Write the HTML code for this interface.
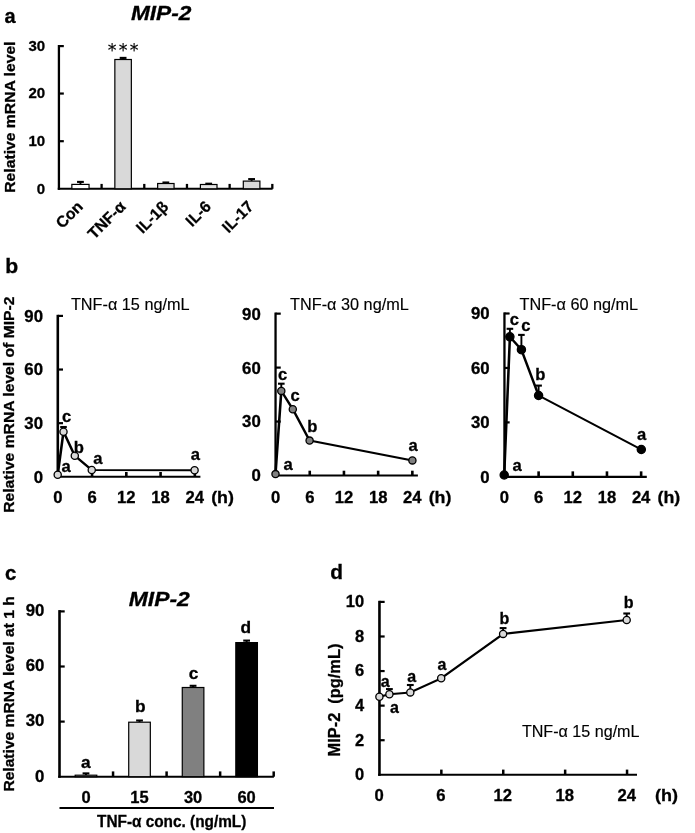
<!DOCTYPE html>
<html lang="en"><head><meta charset="utf-8"><title>MIP-2 figure</title>
<style>
html,body{margin:0;padding:0;background:#fff;}
body{width:695px;height:833px;overflow:hidden;}
svg{display:block;}
svg text{font-family:"Liberation Sans", sans-serif;font-weight:bold;fill:#000;stroke:#000;stroke-width:0.3px;}
svg text.n{font-weight:normal;stroke-width:0.15px;}
</style></head><body>
<svg width="695" height="833" viewBox="0 0 695 833">
<rect width="695" height="833" fill="#fff"/>
<g id="pa">
<text x="4.40" y="23.20" font-size="20" text-anchor="start">a</text>
<text x="130.90" y="20.10" font-size="21" text-anchor="start" font-style="italic" textLength="60.50" lengthAdjust="spacingAndGlyphs">MIP-2</text>
<line x1="58.92" y1="45.00" x2="58.92" y2="189.85" stroke="#000" stroke-width="2.3"/>
<line x1="57.77" y1="188.80" x2="272.60" y2="188.80" stroke="#000" stroke-width="2.1"/>
<line x1="58.92" y1="141.20" x2="63.82" y2="141.20" stroke="#000" stroke-width="2.2"/>
<line x1="58.92" y1="93.55" x2="63.82" y2="93.55" stroke="#000" stroke-width="2.2"/>
<line x1="58.92" y1="46.10" x2="63.82" y2="46.10" stroke="#000" stroke-width="2.2"/>
<line x1="101.60" y1="188.80" x2="101.60" y2="183.90" stroke="#000" stroke-width="2.3"/>
<line x1="144.28" y1="188.80" x2="144.28" y2="183.90" stroke="#000" stroke-width="2.3"/>
<line x1="186.96" y1="188.80" x2="186.96" y2="183.90" stroke="#000" stroke-width="2.3"/>
<line x1="229.64" y1="188.80" x2="229.64" y2="183.90" stroke="#000" stroke-width="2.3"/>
<line x1="272.32" y1="188.80" x2="272.32" y2="183.90" stroke="#000" stroke-width="2.3"/>
<text x="45.20" y="193.60" font-size="15" text-anchor="end">0</text>
<text x="45.20" y="145.70" font-size="15" text-anchor="end">10</text>
<text x="45.20" y="98.20" font-size="15" text-anchor="end">20</text>
<text x="45.20" y="51.00" font-size="15" text-anchor="end">30</text>
<text x="15.20" y="192.70" font-size="15.1" text-anchor="start" transform="rotate(-90 15.20 192.70)" textLength="151.20" lengthAdjust="spacingAndGlyphs">Relative mRNA level</text>
<line x1="80.45" y1="181.90" x2="80.45" y2="184.40" stroke="#000" stroke-width="1.9"/>
<line x1="77.05" y1="181.90" x2="83.85" y2="181.90" stroke="#000" stroke-width="2.1"/>
<rect x="71.85" y="184.40" width="17.2" height="4.40" fill="#ffffff" stroke="#000" stroke-width="1.2"/>
<text x="83.86" y="207.60" font-size="15.8" text-anchor="end" transform="rotate(-45 83.86 207.60)">Con</text>
<line x1="123.10" y1="57.90" x2="123.10" y2="59.50" stroke="#000" stroke-width="1.9"/>
<line x1="119.70" y1="57.90" x2="126.50" y2="57.90" stroke="#000" stroke-width="2.1"/>
<rect x="114.85" y="59.50" width="16.5" height="129.30" fill="#d9d9d9" stroke="#000" stroke-width="1.2"/>
<text x="126.54" y="207.60" font-size="15.8" text-anchor="end" transform="rotate(-45 126.54 207.60)">TNF-α</text>
<line x1="165.85" y1="182.50" x2="165.85" y2="183.50" stroke="#000" stroke-width="1.9"/>
<line x1="162.45" y1="182.50" x2="169.25" y2="182.50" stroke="#000" stroke-width="2.1"/>
<rect x="157.65" y="183.50" width="16.4" height="5.30" fill="#d9d9d9" stroke="#000" stroke-width="1.2"/>
<text x="169.22" y="207.60" font-size="15.8" text-anchor="end" transform="rotate(-45 169.22 207.60)">IL-1β</text>
<line x1="208.70" y1="183.70" x2="208.70" y2="184.50" stroke="#000" stroke-width="1.9"/>
<line x1="205.30" y1="183.70" x2="212.10" y2="183.70" stroke="#000" stroke-width="2.1"/>
<rect x="200.40" y="184.50" width="16.6" height="4.30" fill="#e4e4e4" stroke="#000" stroke-width="1.2"/>
<text x="211.90" y="207.60" font-size="15.8" text-anchor="end" transform="rotate(-45 211.90 207.60)">IL-6</text>
<line x1="251.60" y1="179.10" x2="251.60" y2="181.10" stroke="#000" stroke-width="1.9"/>
<line x1="248.20" y1="179.10" x2="255.00" y2="179.10" stroke="#000" stroke-width="2.1"/>
<rect x="243.30" y="181.10" width="16.6" height="7.70" fill="#d9d9d9" stroke="#000" stroke-width="1.2"/>
<text x="254.58" y="207.60" font-size="15.8" text-anchor="end" transform="rotate(-45 254.58 207.60)">IL-17</text>
<text x="124.20" y="55.90" font-size="17.5" text-anchor="middle" class="n" style='font-family:"DejaVu Sans", sans-serif' letter-spacing="2.2" stroke="#000" stroke-width="0.35">***</text>
</g>
<g id="pb">
<text x="0" y="0" font-size="20" text-anchor="start" transform="translate(5.20 273.20) scale(1.06 1)">b</text>
<text x="14.00" y="512.80" font-size="15.3" text-anchor="start" transform="rotate(-90 14.00 512.80)" textLength="216.30" lengthAdjust="spacingAndGlyphs">Relative mRNA level of MIP-2</text>
<line x1="57.80" y1="314.80" x2="57.80" y2="477.85" stroke="#000" stroke-width="2.6"/>
<line x1="56.50" y1="476.80" x2="200.40" y2="476.80" stroke="#000" stroke-width="2.1"/>
<line x1="57.80" y1="423.17" x2="63.00" y2="423.17" stroke="#000" stroke-width="2.2"/>
<line x1="57.80" y1="369.53" x2="63.00" y2="369.53" stroke="#000" stroke-width="2.2"/>
<line x1="57.80" y1="315.90" x2="63.00" y2="315.90" stroke="#000" stroke-width="2.2"/>
<line x1="92.06" y1="476.80" x2="92.06" y2="472.00" stroke="#000" stroke-width="2.6"/>
<line x1="126.32" y1="476.80" x2="126.32" y2="472.00" stroke="#000" stroke-width="2.6"/>
<line x1="160.58" y1="476.80" x2="160.58" y2="472.00" stroke="#000" stroke-width="2.6"/>
<line x1="194.84" y1="476.80" x2="194.84" y2="472.00" stroke="#000" stroke-width="2.6"/>
<text x="0" y="0" font-size="16" text-anchor="end" transform="translate(43.00 482.70) scale(1.05 1)">0</text>
<text x="0" y="0" font-size="16" text-anchor="end" transform="translate(43.00 429.07) scale(1.05 1)">30</text>
<text x="0" y="0" font-size="16" text-anchor="end" transform="translate(43.00 375.43) scale(1.05 1)">60</text>
<text x="0" y="0" font-size="16" text-anchor="end" transform="translate(43.00 321.80) scale(1.05 1)">90</text>
<text x="0" y="0" font-size="16" text-anchor="middle" transform="translate(57.80 502.60) scale(1.04 1)">0</text>
<text x="0" y="0" font-size="16" text-anchor="middle" transform="translate(92.06 502.60) scale(1.04 1)">6</text>
<text x="0" y="0" font-size="16" text-anchor="middle" transform="translate(126.32 502.60) scale(1.04 1)">12</text>
<text x="0" y="0" font-size="16" text-anchor="middle" transform="translate(160.58 502.60) scale(1.04 1)">18</text>
<text x="0" y="0" font-size="16" text-anchor="middle" transform="translate(194.84 502.60) scale(1.04 1)">24</text>
<text x="0" y="0" font-size="17" text-anchor="middle" transform="translate(222.54 502.90) scale(1.05 1)">(h)</text>
<text x="70.90" y="310.20" font-size="16.25" text-anchor="start" class="n">TNF-α 15 ng/mL</text>
<line x1="63.50" y1="427.00" x2="63.50" y2="431.70" stroke="#000" stroke-width="1.9"/>
<line x1="60.20" y1="427.00" x2="66.80" y2="427.00" stroke="#000" stroke-width="2.1"/>
<polyline points="46.16,474.80 50.80,431.70 59.84,455.80 73.40,470.00 155.68,470.30" fill="none" stroke="#000" stroke-width="2.05" stroke-linejoin="round" transform="scale(1.25 1)"/>
<circle cx="57.70" cy="474.80" r="3.6" fill="#d9d9d9" stroke="#000" stroke-width="1.3"/>
<circle cx="63.50" cy="431.70" r="3.6" fill="#d9d9d9" stroke="#000" stroke-width="1.3"/>
<circle cx="74.80" cy="455.80" r="3.6" fill="#d9d9d9" stroke="#000" stroke-width="1.3"/>
<circle cx="91.75" cy="470.00" r="3.6" fill="#d9d9d9" stroke="#000" stroke-width="1.3"/>
<circle cx="194.60" cy="470.30" r="3.6" fill="#d9d9d9" stroke="#000" stroke-width="1.3"/>
<text x="66.60" y="422.00" font-size="16.6" text-anchor="middle">c</text>
<text x="78.80" y="452.80" font-size="16.6" text-anchor="middle">b</text>
<text x="97.80" y="464.30" font-size="16.6" text-anchor="middle">a</text>
<text x="66.20" y="472.10" font-size="16.6" text-anchor="middle">a</text>
<text x="195.30" y="460.20" font-size="16.6" text-anchor="middle">a</text>
<line x1="275.55" y1="312.55" x2="275.55" y2="476.55" stroke="#000" stroke-width="2.3"/>
<line x1="274.40" y1="475.50" x2="417.90" y2="475.50" stroke="#000" stroke-width="2.1"/>
<line x1="275.55" y1="421.55" x2="280.75" y2="421.55" stroke="#000" stroke-width="2.2"/>
<line x1="275.55" y1="367.60" x2="280.75" y2="367.60" stroke="#000" stroke-width="2.2"/>
<line x1="275.55" y1="313.65" x2="280.75" y2="313.65" stroke="#000" stroke-width="2.2"/>
<line x1="309.75" y1="475.50" x2="309.75" y2="470.70" stroke="#000" stroke-width="2.6"/>
<line x1="343.95" y1="475.50" x2="343.95" y2="470.70" stroke="#000" stroke-width="2.6"/>
<line x1="378.15" y1="475.50" x2="378.15" y2="470.70" stroke="#000" stroke-width="2.6"/>
<line x1="412.35" y1="475.50" x2="412.35" y2="470.70" stroke="#000" stroke-width="2.6"/>
<text x="0" y="0" font-size="16" text-anchor="end" transform="translate(260.75 481.40) scale(1.05 1)">0</text>
<text x="0" y="0" font-size="16" text-anchor="end" transform="translate(260.75 427.45) scale(1.05 1)">30</text>
<text x="0" y="0" font-size="16" text-anchor="end" transform="translate(260.75 373.50) scale(1.05 1)">60</text>
<text x="0" y="0" font-size="16" text-anchor="end" transform="translate(260.75 319.55) scale(1.05 1)">90</text>
<text x="0" y="0" font-size="16" text-anchor="middle" transform="translate(275.55 502.60) scale(1.04 1)">0</text>
<text x="0" y="0" font-size="16" text-anchor="middle" transform="translate(309.75 502.60) scale(1.04 1)">6</text>
<text x="0" y="0" font-size="16" text-anchor="middle" transform="translate(343.95 502.60) scale(1.04 1)">12</text>
<text x="0" y="0" font-size="16" text-anchor="middle" transform="translate(378.15 502.60) scale(1.04 1)">18</text>
<text x="0" y="0" font-size="16" text-anchor="middle" transform="translate(412.35 502.60) scale(1.04 1)">24</text>
<text x="0" y="0" font-size="17" text-anchor="middle" transform="translate(440.05 502.90) scale(1.05 1)">(h)</text>
<text x="290.10" y="310.20" font-size="16.25" text-anchor="start" class="n">TNF-α 30 ng/mL</text>
<line x1="281.30" y1="383.70" x2="281.30" y2="390.90" stroke="#000" stroke-width="1.9"/>
<line x1="278.00" y1="383.70" x2="284.60" y2="383.70" stroke="#000" stroke-width="2.1"/>
<polyline points="220.40,474.10 225.04,390.90 234.24,409.20 247.68,440.60 329.92,460.40" fill="none" stroke="#000" stroke-width="2.05" stroke-linejoin="round" transform="scale(1.25 1)"/>
<circle cx="275.50" cy="474.10" r="3.6" fill="#808080" stroke="#000" stroke-width="1.3"/>
<circle cx="281.30" cy="390.90" r="3.6" fill="#808080" stroke="#000" stroke-width="1.3"/>
<circle cx="292.80" cy="409.20" r="3.6" fill="#808080" stroke="#000" stroke-width="1.3"/>
<circle cx="309.60" cy="440.60" r="3.6" fill="#808080" stroke="#000" stroke-width="1.3"/>
<circle cx="412.40" cy="460.40" r="3.6" fill="#808080" stroke="#000" stroke-width="1.3"/>
<text x="282.70" y="380.40" font-size="16.6" text-anchor="middle">c</text>
<text x="295.10" y="401.00" font-size="16.6" text-anchor="middle">c</text>
<text x="312.20" y="432.10" font-size="16.6" text-anchor="middle">b</text>
<text x="288.20" y="470.10" font-size="16.6" text-anchor="middle">a</text>
<text x="413.00" y="450.60" font-size="16.6" text-anchor="middle">a</text>
<line x1="504.45" y1="312.40" x2="504.45" y2="477.90" stroke="#000" stroke-width="2.3"/>
<line x1="503.30" y1="476.85" x2="646.80" y2="476.85" stroke="#000" stroke-width="2.1"/>
<line x1="504.45" y1="422.40" x2="509.65" y2="422.40" stroke="#000" stroke-width="2.2"/>
<line x1="504.45" y1="367.95" x2="509.65" y2="367.95" stroke="#000" stroke-width="2.2"/>
<line x1="504.45" y1="313.50" x2="509.65" y2="313.50" stroke="#000" stroke-width="2.2"/>
<line x1="538.62" y1="476.85" x2="538.62" y2="471.35" stroke="#000" stroke-width="2.6"/>
<line x1="572.79" y1="476.85" x2="572.79" y2="471.35" stroke="#000" stroke-width="2.6"/>
<line x1="606.96" y1="476.85" x2="606.96" y2="471.35" stroke="#000" stroke-width="2.6"/>
<line x1="641.13" y1="476.85" x2="641.13" y2="471.35" stroke="#000" stroke-width="2.6"/>
<text x="0" y="0" font-size="16" text-anchor="end" transform="translate(489.65 482.75) scale(1.05 1)">0</text>
<text x="0" y="0" font-size="16" text-anchor="end" transform="translate(489.65 428.30) scale(1.05 1)">30</text>
<text x="0" y="0" font-size="16" text-anchor="end" transform="translate(489.65 373.85) scale(1.05 1)">60</text>
<text x="0" y="0" font-size="16" text-anchor="end" transform="translate(489.65 319.40) scale(1.05 1)">90</text>
<text x="0" y="0" font-size="16" text-anchor="middle" transform="translate(504.45 502.60) scale(1.04 1)">0</text>
<text x="0" y="0" font-size="16" text-anchor="middle" transform="translate(538.62 502.60) scale(1.04 1)">6</text>
<text x="0" y="0" font-size="16" text-anchor="middle" transform="translate(572.79 502.60) scale(1.04 1)">12</text>
<text x="0" y="0" font-size="16" text-anchor="middle" transform="translate(606.96 502.60) scale(1.04 1)">18</text>
<text x="0" y="0" font-size="16" text-anchor="middle" transform="translate(641.13 502.60) scale(1.04 1)">24</text>
<text x="0" y="0" font-size="17" text-anchor="middle" transform="translate(668.83 502.90) scale(1.05 1)">(h)</text>
<text x="519.50" y="310.20" font-size="16.25" text-anchor="start" class="n">TNF-α 60 ng/mL</text>
<line x1="509.90" y1="328.80" x2="509.90" y2="336.80" stroke="#000" stroke-width="1.9"/>
<line x1="506.60" y1="328.80" x2="513.20" y2="328.80" stroke="#000" stroke-width="2.1"/>
<line x1="521.40" y1="334.90" x2="521.40" y2="349.70" stroke="#000" stroke-width="1.9"/>
<line x1="518.10" y1="334.90" x2="524.70" y2="334.90" stroke="#000" stroke-width="2.1"/>
<line x1="538.60" y1="385.60" x2="538.60" y2="395.50" stroke="#000" stroke-width="1.9"/>
<line x1="535.30" y1="385.60" x2="541.90" y2="385.60" stroke="#000" stroke-width="2.1"/>
<polyline points="403.36,475.00 407.92,336.80 417.12,349.70 430.88,395.50 513.04,449.50" fill="none" stroke="#000" stroke-width="2.05" stroke-linejoin="round" transform="scale(1.25 1)"/>
<circle cx="504.20" cy="475.00" r="4.1" fill="#000000" stroke="#000" stroke-width="1.3"/>
<circle cx="509.90" cy="336.80" r="4.1" fill="#000000" stroke="#000" stroke-width="1.3"/>
<circle cx="521.40" cy="349.70" r="4.1" fill="#000000" stroke="#000" stroke-width="1.3"/>
<circle cx="538.60" cy="395.50" r="4.1" fill="#000000" stroke="#000" stroke-width="1.3"/>
<circle cx="641.30" cy="449.50" r="4.1" fill="#000000" stroke="#000" stroke-width="1.3"/>
<text x="514.30" y="324.80" font-size="16.6" text-anchor="middle">c</text>
<text x="525.80" y="331.30" font-size="16.6" text-anchor="middle">c</text>
<text x="540.30" y="380.20" font-size="16.6" text-anchor="middle">b</text>
<text x="517.00" y="470.80" font-size="16.6" text-anchor="middle">a</text>
<text x="641.70" y="440.40" font-size="16.6" text-anchor="middle">a</text>
</g>
<g id="pc">
<text x="0" y="0" font-size="19.4" text-anchor="start" transform="translate(4.90 580.00) scale(1.05 1)">c</text>
<text x="128.80" y="606.30" font-size="21" text-anchor="start" font-style="italic" textLength="61.00" lengthAdjust="spacingAndGlyphs">MIP-2</text>
<line x1="59.50" y1="610.10" x2="59.50" y2="777.75" stroke="#000" stroke-width="2.6"/>
<line x1="58.20" y1="776.70" x2="273.90" y2="776.70" stroke="#000" stroke-width="2.1"/>
<line x1="59.50" y1="721.60" x2="64.70" y2="721.60" stroke="#000" stroke-width="2.2"/>
<line x1="59.50" y1="666.50" x2="64.70" y2="666.50" stroke="#000" stroke-width="2.2"/>
<line x1="59.50" y1="611.40" x2="64.70" y2="611.40" stroke="#000" stroke-width="2.2"/>
<line x1="113.05" y1="776.70" x2="113.05" y2="771.40" stroke="#000" stroke-width="2.5"/>
<line x1="166.60" y1="776.70" x2="166.60" y2="771.40" stroke="#000" stroke-width="2.5"/>
<line x1="220.15" y1="776.70" x2="220.15" y2="771.40" stroke="#000" stroke-width="2.5"/>
<line x1="273.70" y1="776.70" x2="273.70" y2="771.40" stroke="#000" stroke-width="2.5"/>
<text x="0" y="0" font-size="16" text-anchor="end" transform="translate(44.40 781.50) scale(1.05 1)">0</text>
<text x="0" y="0" font-size="16" text-anchor="end" transform="translate(44.40 726.40) scale(1.05 1)">30</text>
<text x="0" y="0" font-size="16" text-anchor="end" transform="translate(44.40 671.30) scale(1.05 1)">60</text>
<text x="0" y="0" font-size="16" text-anchor="end" transform="translate(44.40 616.20) scale(1.05 1)">90</text>
<text x="13.60" y="791.60" font-size="15.4" text-anchor="start" transform="rotate(-90 13.60 791.60)" textLength="195.40" lengthAdjust="spacingAndGlyphs">Relative mRNA level at 1 h</text>
<line x1="85.98" y1="773.40" x2="85.98" y2="775.20" stroke="#000" stroke-width="1.9"/>
<line x1="82.58" y1="773.40" x2="89.38" y2="773.40" stroke="#000" stroke-width="2.1"/>
<rect x="75.18" y="775.20" width="21.6" height="1.50" fill="#d9d9d9" stroke="#000" stroke-width="1.2"/>
<text x="0" y="0" font-size="16" text-anchor="middle" transform="translate(85.98 802.90) scale(1.03 1)">0</text>
<text x="0" y="0" font-size="16.8" text-anchor="middle" transform="translate(85.78 768.10) scale(1.03 1)">a</text>
<line x1="139.52" y1="720.50" x2="139.52" y2="722.20" stroke="#000" stroke-width="1.9"/>
<line x1="136.12" y1="720.50" x2="142.92" y2="720.50" stroke="#000" stroke-width="2.1"/>
<rect x="128.72" y="722.20" width="21.6" height="54.50" fill="#d9d9d9" stroke="#000" stroke-width="1.2"/>
<text x="0" y="0" font-size="16" text-anchor="middle" transform="translate(139.52 802.90) scale(1.03 1)">15</text>
<text x="0" y="0" font-size="16.8" text-anchor="middle" transform="translate(140.32 712.30) scale(1.03 1)">b</text>
<line x1="193.07" y1="685.80" x2="193.07" y2="687.50" stroke="#000" stroke-width="1.9"/>
<line x1="189.67" y1="685.80" x2="196.47" y2="685.80" stroke="#000" stroke-width="2.1"/>
<rect x="182.27" y="687.50" width="21.6" height="89.20" fill="#808080" stroke="#000" stroke-width="1.2"/>
<text x="0" y="0" font-size="16" text-anchor="middle" transform="translate(193.07 802.90) scale(1.03 1)">30</text>
<text x="0" y="0" font-size="16.8" text-anchor="middle" transform="translate(193.47 678.60) scale(1.03 1)">c</text>
<line x1="246.62" y1="640.60" x2="246.62" y2="642.60" stroke="#000" stroke-width="1.9"/>
<line x1="243.22" y1="640.60" x2="250.02" y2="640.60" stroke="#000" stroke-width="2.1"/>
<rect x="235.82" y="642.60" width="21.6" height="134.10" fill="#000000" stroke="#000" stroke-width="1.2"/>
<text x="0" y="0" font-size="16" text-anchor="middle" transform="translate(246.62 802.90) scale(1.03 1)">60</text>
<text x="0" y="0" font-size="16.8" text-anchor="middle" transform="translate(245.82 633.20) scale(1.03 1)">d</text>
<line x1="59.50" y1="808.00" x2="274.00" y2="808.00" stroke="#000" stroke-width="1.9"/>
<text x="171.70" y="826.70" font-size="16" text-anchor="middle" textLength="149.30" lengthAdjust="spacingAndGlyphs">TNF-α conc. (ng/mL)</text>
</g>
<g id="pd">
<text x="0" y="0" font-size="20" text-anchor="start" transform="translate(330.30 578.60) scale(1.04 1)">d</text>
<line x1="379.45" y1="600.80" x2="379.45" y2="775.85" stroke="#000" stroke-width="2.6"/>
<line x1="378.15" y1="774.80" x2="637.00" y2="774.80" stroke="#000" stroke-width="2.1"/>
<line x1="379.45" y1="740.22" x2="384.65" y2="740.22" stroke="#000" stroke-width="2.2"/>
<line x1="379.45" y1="705.64" x2="384.65" y2="705.64" stroke="#000" stroke-width="2.2"/>
<line x1="379.45" y1="671.06" x2="384.65" y2="671.06" stroke="#000" stroke-width="2.2"/>
<line x1="379.45" y1="636.48" x2="384.65" y2="636.48" stroke="#000" stroke-width="2.2"/>
<line x1="379.45" y1="601.90" x2="384.65" y2="601.90" stroke="#000" stroke-width="2.2"/>
<line x1="441.35" y1="774.80" x2="441.35" y2="769.60" stroke="#000" stroke-width="2.5"/>
<line x1="503.25" y1="774.80" x2="503.25" y2="769.60" stroke="#000" stroke-width="2.5"/>
<line x1="565.15" y1="774.80" x2="565.15" y2="769.60" stroke="#000" stroke-width="2.5"/>
<line x1="627.05" y1="774.80" x2="627.05" y2="769.60" stroke="#000" stroke-width="2.5"/>
<text x="0" y="0" font-size="16" text-anchor="end" transform="translate(364.20 780.10) scale(1.03 1)">0</text>
<text x="0" y="0" font-size="16" text-anchor="end" transform="translate(364.20 745.52) scale(1.03 1)">2</text>
<text x="0" y="0" font-size="16" text-anchor="end" transform="translate(364.20 710.94) scale(1.03 1)">4</text>
<text x="0" y="0" font-size="16" text-anchor="end" transform="translate(364.20 676.36) scale(1.03 1)">6</text>
<text x="0" y="0" font-size="16" text-anchor="end" transform="translate(364.20 641.78) scale(1.03 1)">8</text>
<text x="0" y="0" font-size="16" text-anchor="end" transform="translate(364.20 607.20) scale(1.03 1)">10</text>
<text x="0" y="0" font-size="16" text-anchor="middle" transform="translate(379.05 800.60) scale(1.04 1)">0</text>
<text x="0" y="0" font-size="16" text-anchor="middle" transform="translate(440.95 800.60) scale(1.04 1)">6</text>
<text x="0" y="0" font-size="16" text-anchor="middle" transform="translate(502.85 800.60) scale(1.04 1)">12</text>
<text x="0" y="0" font-size="16" text-anchor="middle" transform="translate(564.75 800.60) scale(1.04 1)">18</text>
<text x="0" y="0" font-size="16" text-anchor="middle" transform="translate(626.65 800.60) scale(1.04 1)">24</text>
<text x="0" y="0" font-size="17" text-anchor="middle" transform="translate(666.40 800.90) scale(1.06 1)">(h)</text>
<text x="339.90" y="756.40" font-size="16.7" text-anchor="start" transform="rotate(-90 339.90 756.40)" textLength="112.80" lengthAdjust="spacingAndGlyphs" xml:space="preserve">MIP-2  (pg/mL)</text>
<text x="521.90" y="736.70" font-size="16" text-anchor="start" class="n" textLength="117.60" lengthAdjust="spacingAndGlyphs">TNF-α 15 ng/mL</text>
<line x1="389.40" y1="689.10" x2="389.40" y2="694.30" stroke="#000" stroke-width="1.9"/>
<line x1="386.00" y1="689.10" x2="392.80" y2="689.10" stroke="#000" stroke-width="2.1"/>
<line x1="410.30" y1="685.00" x2="410.30" y2="692.40" stroke="#000" stroke-width="1.9"/>
<line x1="406.90" y1="685.00" x2="413.70" y2="685.00" stroke="#000" stroke-width="2.1"/>
<line x1="503.10" y1="628.10" x2="503.10" y2="633.90" stroke="#000" stroke-width="1.9"/>
<line x1="499.70" y1="628.10" x2="506.50" y2="628.10" stroke="#000" stroke-width="2.1"/>
<line x1="626.70" y1="613.50" x2="626.70" y2="620.00" stroke="#000" stroke-width="1.9"/>
<line x1="623.30" y1="613.50" x2="630.10" y2="613.50" stroke="#000" stroke-width="2.1"/>
<polyline points="303.52,696.80 311.52,694.30 328.24,692.40 352.96,678.30 402.48,633.90 501.36,620.00" fill="none" stroke="#000" stroke-width="2.05" stroke-linejoin="round" transform="scale(1.25 1)"/>
<circle cx="379.40" cy="696.80" r="3.6" fill="#d9d9d9" stroke="#000" stroke-width="1.3"/>
<circle cx="389.40" cy="694.30" r="3.6" fill="#d9d9d9" stroke="#000" stroke-width="1.3"/>
<circle cx="410.30" cy="692.40" r="3.6" fill="#d9d9d9" stroke="#000" stroke-width="1.3"/>
<circle cx="441.20" cy="678.30" r="3.6" fill="#d9d9d9" stroke="#000" stroke-width="1.3"/>
<circle cx="503.10" cy="633.90" r="3.6" fill="#d9d9d9" stroke="#000" stroke-width="1.3"/>
<circle cx="626.70" cy="620.00" r="3.6" fill="#d9d9d9" stroke="#000" stroke-width="1.3"/>
<text x="385.30" y="686.60" font-size="16" text-anchor="middle">a</text>
<text x="394.40" y="713.20" font-size="16" text-anchor="middle">a</text>
<text x="411.70" y="681.60" font-size="16" text-anchor="middle">a</text>
<text x="442.00" y="669.80" font-size="16" text-anchor="middle">a</text>
<text x="504.50" y="624.40" font-size="16" text-anchor="middle">b</text>
<text x="628.60" y="607.90" font-size="16" text-anchor="middle">b</text>
</g>
</svg>
</body></html>
